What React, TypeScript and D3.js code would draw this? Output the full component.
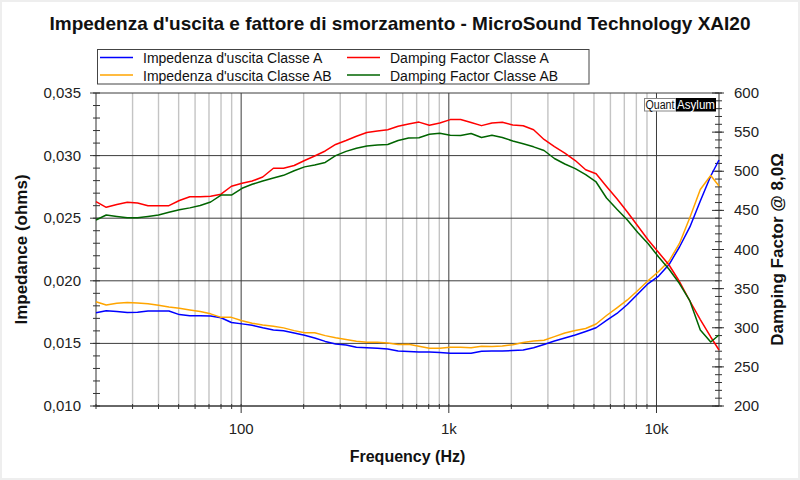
import React from 'react';
import * as d3 from 'd3';

// 1/6-octave frequency points (Hz)
const freqs = [
  20, 22.4, 25.2, 28.3, 31.7, 35.6, 40, 44.9, 50.4, 56.6, 63.5, 71.3, 80, 89.8, 101, 113, 127, 143,
  160, 180, 202, 226, 254, 285, 320, 359, 403, 453, 508, 570, 640, 718, 806, 905, 1016, 1140, 1280,
  1437, 1613, 1810, 2032, 2281, 2560, 2874, 3225, 3620, 4064, 4561, 5120, 5747, 6451, 7241, 8127,
  9123, 10240, 11494, 12902, 14482, 16255, 18246, 20000,
];

// output impedance (ohms)
const zClassA = [
  0.01745, 0.01761, 0.01755, 0.01746, 0.01749, 0.01759, 0.01759, 0.01759, 0.0173, 0.01721, 0.01721,
  0.01719, 0.01705, 0.01667, 0.01656, 0.01645, 0.01625, 0.01607, 0.01601, 0.01583, 0.01565, 0.01543,
  0.01516, 0.01496, 0.01487, 0.01469, 0.01466, 0.01462, 0.01455, 0.0144, 0.01435, 0.01431, 0.01431,
  0.01427, 0.01421, 0.01421, 0.01422, 0.01437, 0.01439, 0.01439, 0.01443, 0.01447, 0.01465, 0.01491,
  0.01519, 0.01543, 0.01567, 0.01595, 0.01625, 0.01683, 0.01739, 0.01811, 0.01895, 0.01978, 0.02038,
  0.0213, 0.0227, 0.0243, 0.02637, 0.02837, 0.02965,
];
const zClassAB = [
  0.01833, 0.01807, 0.0182, 0.01827, 0.01823, 0.01817, 0.01804, 0.01791, 0.0178, 0.01767, 0.01755,
  0.01736, 0.01708, 0.01708, 0.01681, 0.01661, 0.01647, 0.01637, 0.01624, 0.01602, 0.01585, 0.01585,
  0.01562, 0.01545, 0.01532, 0.01518, 0.01509, 0.01509, 0.01504, 0.01491, 0.01493, 0.01478, 0.01462,
  0.01461, 0.01469, 0.01469, 0.01466, 0.01478, 0.01475, 0.01479, 0.0149, 0.01507, 0.01519, 0.01525,
  0.01554, 0.01583, 0.01603, 0.01619, 0.01655, 0.01723, 0.01784, 0.01847, 0.01923, 0.02002, 0.02074,
  0.02158, 0.02298, 0.02506, 0.02729, 0.02841, 0.02757,
];

// damping factor @ 8 ohm
const dfClassA = [
  461.1, 453.9, 457.5, 460.4, 459.4, 456, 456, 456, 462.6, 467.5, 467.5, 468, 470.7, 480.8, 484.6,
  487.5, 492.7, 503.8, 503.8, 507.3, 513.7, 519.5, 525.9, 534.2, 539.3, 544.7, 549.5, 551.4, 553,
  557.4, 560.4, 562.8, 558.7, 561.7, 566, 566.1, 562.2, 558.3, 561.7, 562.6, 559.1, 558.1, 553, 540.6,
  531.4, 523.1, 513.7, 501.9, 496.9, 480.5, 464.8, 447.9, 430, 412.1, 396.2, 380.2, 359.1, 334.2,
  310.5, 288.2, 271.6,
];
const dfClassAB = [
  437.7, 444.1, 442.2, 440.6, 440.6, 442.2, 444.1, 447.5, 450.7, 453.2, 456.2, 460.7, 469.6, 469.6,
  478.2, 483.3, 487.5, 491.4, 494.8, 500.7, 505.6, 508, 511.2, 520, 525.4, 529.5, 532.3, 533.5, 534.2,
  539.2, 542.5, 542.9, 547.3, 548.5, 546.1, 545.7, 548.2, 543.1, 545.9, 543.1, 538.7, 535.1, 531.2,
  526.5, 516.3, 509.3, 503.3, 495.6, 486.3, 465.8, 451.4, 437.7, 421.7, 407.3, 390.4, 374.7, 356.5,
  334.2, 297.1, 281.8, 290.7,
];

const seriesNames = [
  "Impedenza d'uscita Classe A",
  "Impedenza d'uscita Classe AB",
  'Damping Factor Classe A',
  'Damping Factor Classe AB',
];
const seriesColors = ['#0000ff', '#ffa500', '#ff0000', '#006400'];

const leftTicks = [0.01, 0.015, 0.02, 0.025, 0.03, 0.035];
const rightTicks = [200, 250, 300, 350, 400, 450, 500, 550, 600];
const freqLabels = [
  { f: 100, label: '100' },
  { f: 1000, label: '1k' },
  { f: 10000, label: '10k' },
];

const W = 800;
const H = 480;
const left = 96;
const right = 719;
const top = 93;
const bottom = 406;
const font = "'Liberation Sans', Arial, sans-serif";

const itLocale = d3.formatLocale({ decimal: ',', thousands: '.', grouping: [3], currency: ['', '€'] });
const fmtZ = itLocale.format('.3f');

export default function App() {
  const x = d3.scaleLog().domain([20, 20000]).range([left, right]);
  const yL = d3.scaleLinear().domain([0.01, 0.035]).range([bottom, top]);
  const yR = d3.scaleLinear().domain([200, 600]).range([bottom, top]);

  // gridline positions: every 1-2-...-9 in each decade
  const minorFreqs: number[] = [];
  const majorFreqs: number[] = [];
  for (const dec of [10, 100, 1000, 10000]) {
    for (let m = 1; m <= 9; m++) {
      const f = dec * m;
      if (f <= 20 || f >= 20000) continue;
      if (m === 1) majorFreqs.push(f);
      else minorFreqs.push(f);
    }
  }

  const lineZ = d3
    .line<number>()
    .x((_, i) => x(freqs[i]))
    .y((d) => yL(d));
  const lineDF = d3
    .line<number>()
    .x((_, i) => x(freqs[i]))
    .y((d) => yR(d));

  const paths = [lineZ(zClassA), lineZ(zClassAB), lineDF(dfClassA), lineDF(dfClassAB)];

  const leftMinor = d3.range(0.01, 0.0351, 0.001);
  const rightMinor = d3.range(200, 601, 10);

  return (
    <svg
      width={W}
      height={H}
      style={{ position: 'absolute', left: 0, top: 0, background: '#fff' }}
      fontFamily={font}
    >
      <rect x={0.5} y={0.5} width={W - 1} height={H - 1} fill="#fff" stroke="#eeeeee" strokeWidth={3} />

      <text x={400} y={30} textAnchor="middle" fontSize={19} fontWeight="bold" fill="#111">
        Impedenza d'uscita e fattore di smorzamento - MicroSound Technology XAI20
      </text>

      {/* vertical grid */}
      {minorFreqs.map((f) => (
        <line key={'gm' + f} x1={x(f)} x2={x(f)} y1={top} y2={bottom} stroke="#c4c4c4" strokeWidth={1.4} />
      ))}
      {majorFreqs.map((f) => (
        <line key={'gM' + f} x1={x(f)} x2={x(f)} y1={top} y2={bottom} stroke="#3c3c3c" strokeWidth={1} />
      ))}
      {/* horizontal grid */}
      {leftTicks.map((t) => (
        <line key={'gh' + t} x1={left - 6} x2={right} y1={yL(t)} y2={yL(t)} stroke="#3c3c3c" strokeWidth={1} />
      ))}

      {/* bottom ticks */}
      {[20, ...minorFreqs].map((f) => (
        <line key={'bt' + f} x1={x(f)} x2={x(f)} y1={bottom - 2} y2={bottom + 3} stroke="#333" />
      ))}
      {majorFreqs.map((f) => (
        <line key={'bT' + f} x1={x(f)} x2={x(f)} y1={bottom - 2} y2={bottom + 7} stroke="#333" />
      ))}

      {/* left axis */}
      <line x1={left} x2={left} y1={top} y2={bottom} stroke="#333" />
      {leftMinor.map((t, i) => (
        <line key={'lm' + i} x1={left - 3} x2={left + 4} y1={yL(t)} y2={yL(t)} stroke="#333" />
      ))}
      {leftTicks.map((t) => (
        <text key={'lt' + t} x={81} y={yL(t) + 5} textAnchor="end" fontSize={15} fill="#222">
          {fmtZ(t)}
        </text>
      ))}

      {/* right axis */}
      <line x1={right} x2={right} y1={top} y2={bottom} stroke="#333" />
      {rightMinor.map((t) => (
        <line key={'rm' + t} x1={right - 4} x2={right + 3} y1={yR(t)} y2={yR(t)} stroke="#333" />
      ))}
      {rightTicks.map((t) => (
        <g key={'rt' + t}>
          <line x1={right - 7} x2={right + 5} y1={yR(t)} y2={yR(t)} stroke="#333" />
          <text x={734} y={yR(t) + 5} fontSize={15} fill="#222">
            {t}
          </text>
        </g>
      ))}

      {/* bottom axis */}
      <line x1={left} x2={right} y1={bottom} y2={bottom} stroke="#333" />
      {freqLabels.map((d) => (
        <text key={'fl' + d.f} x={x(d.f)} y={434} textAnchor="middle" fontSize={15} fill="#222">
          {d.label}
        </text>
      ))}

      {/* series */}
      {paths.map((d, i) => (
        <path key={'s' + i} d={d || ''} fill="none" stroke={seriesColors[i]} strokeWidth={1.5} strokeLinejoin="round" />
      ))}

      {/* QuantAsylum badge */}
      <rect x={644.5} y={98.5} width={31.5} height={12.5} fill="#fff" stroke="#888" strokeWidth={1} />
      <rect x={676} y={98} width={40} height={13.5} fill="#000" />
      <text x={645.5} y={109} fontSize={12} fill="#111" textLength={29} lengthAdjust="spacingAndGlyphs">
        Quant
      </text>
      <text x={677} y={109} fontSize={12} fill="#fff" textLength={38} lengthAdjust="spacingAndGlyphs">
        Asylum
      </text>

      {/* legend */}
      <rect x={97.5} y={49.5} width={491.5} height={34.5} fill="#fff" stroke="#444" strokeWidth={1} />
      {seriesNames.map((name, i) => {
        const col = i < 2 ? 0 : 1;
        const row = i % 2;
        const lx = col === 0 ? 100 : 347;
        const ly = row === 0 ? 57.5 : 75;
        return (
          <g key={'lg' + i}>
            <line x1={lx} x2={lx + 33} y1={ly} y2={ly} stroke={seriesColors[i]} strokeWidth={1.5} />
            <text x={lx + 43} y={ly + 5.5} fontSize={14} fill="#111">
              {name}
            </text>
          </g>
        );
      })}

      {/* axis titles */}
      <text x={407.5} y={462} textAnchor="middle" fontSize={16} fontWeight="bold" fill="#111">
        Frequency (Hz)
      </text>
      <text
        transform={`translate(27,${(top + bottom) / 2}) rotate(-90)`}
        textAnchor="middle"
        fontSize={17}
        fontWeight="bold"
        fill="#111"
      >
        Impedance (ohms)
      </text>
      <text
        transform={`translate(783,${(top + bottom) / 2}) rotate(-90)`}
        textAnchor="middle"
        fontSize={17}
        fontWeight="bold"
        fill="#111"
      >
        Damping Factor @ 8,0Ω
      </text>
    </svg>
  );
}
